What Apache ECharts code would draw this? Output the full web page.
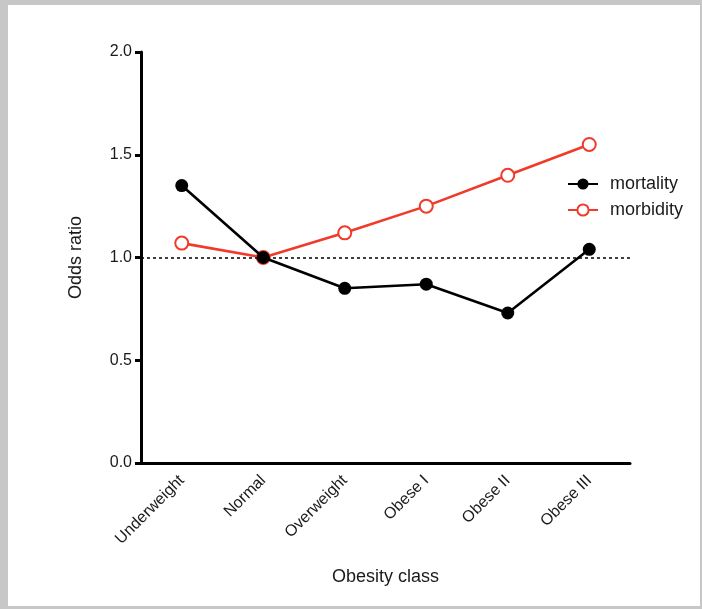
<!DOCTYPE html>
<html><head><meta charset="utf-8">
<script src="https://cdn.jsdelivr.net/npm/echarts@6/dist/echarts.min.js"></script>
<style>
html,body{margin:0;padding:0;background:#c7c7c7;}
#wrap{position:relative;width:702px;height:609px;overflow:hidden;}
#page{position:absolute;left:8px;top:5px;width:692px;height:601px;background:#fff;}
#chart{position:absolute;left:0;top:0;width:702px;height:609px;}
</style></head>
<body><div id="wrap"><div id="page"></div><div id="chart"></div></div>
<script>
const categories = ['Underweight','Normal','Overweight','Obese I','Obese II','Obese III'];
const mortality = [1.35, 1.00, 0.85, 0.87, 0.73, 1.04];
const morbidity = [1.07, 1.00, 1.12, 1.25, 1.40, 1.55];
const referenceLine = 1.0;
const yTicks = ['0.0','0.5','1.0','1.5','2.0'];

const font = 'Liberation Sans, Arial, Helvetica, sans-serif';
const red = '#f03a2a';
const txt = '#1a1a1a';
const chart = echarts.init(document.getElementById('chart'));
chart.setOption({
  backgroundColor: 'transparent',
  animation: false,
  textStyle: {fontFamily: font},
  grid: {left: 141, right: 72, top: 52, bottom: 146},
  legend: {
    left: 562, top: 170, orient: 'vertical', itemGap: 8,
    itemWidth: 30, itemHeight: 14,
    textStyle: {fontSize: 18, color: txt, fontFamily: font, padding: [0, 0, 0, 7]},
    data: ['mortality','morbidity']
  },
  xAxis: {
    type: 'category', data: categories, boundaryGap: true,
    name: 'Obesity class', nameLocation: 'middle', nameGap: 105,
    nameTextStyle: {fontSize: 18, color: txt, fontFamily: font},
    axisLine: {lineStyle: {color: '#000', width: 3}},
    axisTick: {alignWithLabel: true, length: 8, lineStyle: {color: '#000', width: 3}},
    axisLabel: {rotate: 45, fontSize: 16, color: txt, margin: 15, interval: 0}
  },
  yAxis: {
    type: 'value', min: 0, max: 2, interval: 0.5,
    name: 'Odds ratio', nameLocation: 'middle', nameGap: 56, nameRotate: 90,
    nameTextStyle: {fontSize: 18, color: txt, fontFamily: font},
    axisLine: {show: true, lineStyle: {color: '#000', width: 3}},
    axisTick: {show: true, length: 6, lineStyle: {color: '#000', width: 3}},
    splitLine: {show: false},
    axisLabel: {fontSize: 16, color: txt, margin: 9,
      formatter: v => yTicks[Math.round(v / 0.5)]}
  },
  series: [
    {
      name: 'mortality', type: 'line', data: mortality,
      symbol: 'circle', symbolSize: 13,
      itemStyle: {color: '#000'},
      lineStyle: {color: '#000', width: 2.6},
      z: 3,
      markLine: {
        silent: true, symbol: ['none','none'], label: {show: false},
        lineStyle: {color: '#000', type: [3, 3], width: 1.6},
        data: [{yAxis: referenceLine}]
      }
    },
    {
      name: 'morbidity', type: 'line', data: morbidity,
      symbol: 'circle', symbolSize: 13,
      itemStyle: {color: '#fff', borderColor: red, borderWidth: 2},
      lineStyle: {color: red, width: 2.6},
      z: 2
    }
  ]
});
</script></body></html>
